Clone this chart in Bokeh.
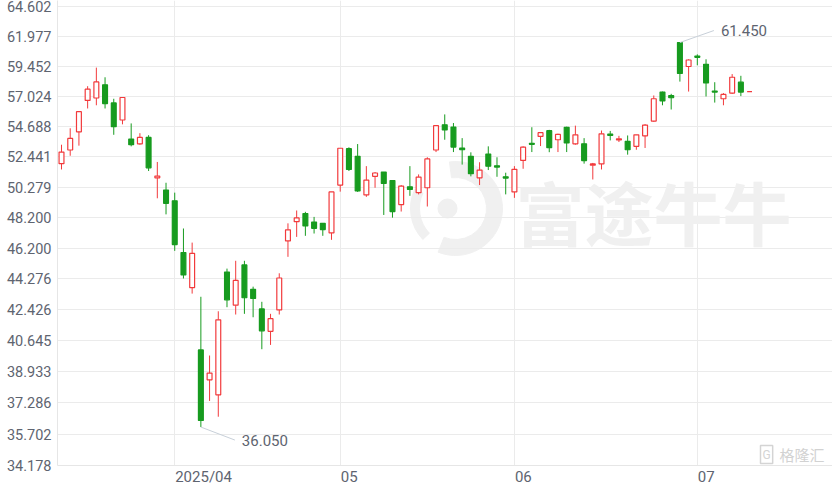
import math
from bokeh.plotting import figure
from bokeh.models import Range1d, FixedTicker, PrintfTickFormatter, Label, ColumnDataSource
from bokeh.embed import file_html
from bokeh.resources import INLINE

# ---------------- data ----------------
dates = (
    ["2025-03-%02d" % d for d in [13, 14, 17, 18, 19, 20, 21, 24, 25, 26, 27, 28, 31]]
    + ["2025-04-%02d" % d for d in [1, 2, 3, 7, 8, 9, 10, 11, 14, 15, 16, 17, 22, 23, 24, 25, 28, 29, 30]]
    + ["2025-05-%02d" % d for d in [2, 6, 7, 8, 9, 12, 13, 14, 15, 16, 19, 20, 21, 22, 23, 26, 27, 28, 29, 30]]
    + ["2025-06-%02d" % d for d in [2, 3, 4, 5, 6, 9, 10, 11, 12, 13, 16, 17, 18, 19, 20, 23, 24, 25, 26, 27, 30]]
    + ["2025-07-%02d" % d for d in [2, 3, 4, 7, 8, 9, 10]]
)

opens = [51.95, 52.94, 54.29, 56.71, 56.90, 57.95, 56.51, 55.19, 53.75, 53.40,
         53.87, 50.94, 50.08, 49.34, 45.92, 43.74, 40.12, 38.49, 37.70, 44.70,
         42.69, 45.14, 43.64, 42.47, 41.17, 42.41, 46.67, 47.93, 48.47, 47.91,
         47.82, 47.19, 50.43, 53.04, 52.48, 49.74, 51.04, 51.35, 50.75, 49.08,
         50.31, 49.90, 50.24, 52.94, 54.83, 54.65, 53.09, 52.48, 50.94, 52.65,
         51.79, 51.01, 49.95, 52.18, 53.43, 53.95, 54.38, 53.70, 54.63, 53.40,
         53.40, 51.84, 51.93, 54.12, 53.68, 53.58, 53.21, 53.99, 55.11, 57.37,
         57.10, 61.45, 59.44, 60.31, 59.62, 57.45, 56.84, 57.29, 58.16, 57.41]
highs = [53.33, 54.56, 55.83, 57.84, 59.35, 58.56, 56.84, 56.94, 54.93, 54.19,
         54.04, 52.07, 50.59, 49.90, 47.48, 46.56, 43.19, 39.81, 42.33, 44.91,
         45.40, 45.40, 43.80, 42.89, 42.18, 44.62, 47.82, 48.68, 48.59, 48.25,
         47.84, 49.95, 53.07, 53.14, 53.38, 51.77, 51.35, 51.35, 50.75, 50.43,
         51.77, 51.18, 52.41, 54.76, 55.62, 54.96, 53.82, 52.77, 52.05, 53.21,
         52.41, 51.30, 51.77, 53.21, 54.64, 54.25, 54.44, 54.15, 54.68, 54.76,
         53.82, 52.00, 54.39, 54.36, 53.99, 54.02, 54.07, 54.88, 57.10, 57.41,
         57.23, 61.45, 60.04, 60.45, 60.04, 58.16, 57.29, 58.82, 58.68, 57.41]
lows = [51.53, 52.52, 53.26, 56.08, 56.33, 56.08, 54.07, 54.86, 53.21, 53.33,
        51.42, 49.51, 48.42, 46.03, 44.30, 43.38, 36.05, 37.38, 36.57, 42.57,
        42.14, 42.18, 41.98, 40.16, 40.40, 42.14, 45.65, 46.93, 47.00, 47.15,
        47.00, 46.74, 49.97, 51.42, 49.95, 49.61, 50.24, 48.38, 48.20, 48.61,
        49.68, 49.78, 48.95, 52.79, 53.70, 52.79, 51.88, 51.04, 50.43, 51.49,
        51.01, 49.78, 49.54, 51.58, 52.79, 53.23, 52.78, 52.79, 52.79, 53.33,
        51.95, 50.82, 51.53, 53.65, 53.53, 52.60, 52.96, 53.09, 55.06, 56.33,
        56.00, 58.21, 57.41, 59.54, 57.02, 56.54, 56.33, 57.23, 57.05, 57.41]
closes = [52.79, 53.80, 55.83, 57.60, 58.18, 56.46, 54.68, 56.94, 53.33, 53.87,
          51.65, 51.06, 49.17, 46.43, 44.52, 45.87, 36.38, 38.85, 41.83, 43.01,
          44.18, 43.13, 43.09, 41.20, 41.90, 44.33, 47.39, 48.18, 47.65, 47.49,
          47.41, 49.95, 53.07, 51.53, 50.02, 50.78, 51.28, 50.54, 48.61, 50.36,
          50.12, 50.99, 52.29, 54.76, 54.43, 53.16, 52.96, 51.23, 51.49, 51.77,
          51.70, 50.92, 51.54, 53.15, 53.36, 54.23, 53.11, 54.10, 53.46, 54.07,
          52.17, 51.93, 54.14, 54.02, 53.77, 52.96, 54.07, 54.80, 56.84, 56.67,
          56.92, 58.87, 59.98, 60.20, 58.10, 57.37, 57.18, 58.56, 57.37, 57.41]

y_ticks = [34.178, 35.702, 37.286, 38.933, 40.645, 42.426, 44.276, 46.200,
           48.200, 50.279, 52.441, 54.688, 57.024, 59.452, 61.977, 64.602]

# ---------------- style / layout ----------------
RED = "#f23a3c"
GREEN = "#179b1f"
GRID = "#ebebeb"
TEXT = "#5e6470"
WM = "#f0f0f0"
FONT = "Roboto"
XFS = 15  # x label font size (px)

W, H = 832, 490
LEFT, TOP, BOTTOM = 57, 0, 25
x_start, x_end = -0.46, 88.52
y_start, y_end = 34.178, 65.14

p = figure(width=W, height=H, output_backend="svg", toolbar_location=None,
           x_range=Range1d(x_start, x_end), y_range=Range1d(y_start, y_end),
           y_axis_type="log",
           min_border_left=LEFT, min_border_right=0,
           min_border_top=TOP, min_border_bottom=BOTTOM)
p.outline_line_color = None
p.background_fill_color = "white"
p.border_fill_color = "white"

frame_w = W - LEFT
frame_h = H - TOP - BOTTOM
px_idx = frame_w / (x_end - x_start)
px_ln = frame_h / math.log(y_end / y_start)

# y axis
p.yaxis.ticker = FixedTicker(ticks=y_ticks)
p.yaxis.formatter = PrintfTickFormatter(format="%.3f")
p.yaxis.major_label_text_font = FONT
p.yaxis.major_label_text_font_size = "14.5px"
p.yaxis.major_label_text_color = TEXT
p.yaxis.major_label_standoff = 6
p.yaxis.axis_label_standoff = 0
p.yaxis.major_tick_out = 0
p.yaxis.major_tick_in = 0
p.yaxis.minor_tick_out = 0
p.yaxis.minor_tick_in = 0
p.yaxis.major_tick_line_color = None
p.yaxis.minor_tick_line_color = None
p.yaxis.axis_line_color = "#e6e6e6"
p.ygrid.grid_line_color = GRID
p.ygrid.grid_line_width = 1

# x axis: index based, gridlines at first trading day of each month,
# labels left-aligned on the gridline (tick placed at the label's centre)
n = len(dates)
xs = list(range(n))
month_idx = [i for i in range(1, n) if dates[i][5:7] != dates[i - 1][5:7]]
month_txt = [(dates[i][:4] + "/" + dates[i][5:7]) if k == 0 else dates[i][5:7]
             for k, i in enumerate(month_idx)]


def text_w(s):
    return sum(0.5615 if ch.isdigit() else 0.41 for ch in s) * XFS


label_pos = [round(i + (text_w(t) / 2 + 0.5) / px_idx, 4) for i, t in zip(month_idx, month_txt)]
p.xaxis.ticker = FixedTicker(ticks=label_pos)
p.xaxis.major_label_overrides = {pos: t for pos, t in zip(label_pos, month_txt)}
p.xaxis.major_label_text_font = FONT
p.xaxis.major_label_text_font_size = "%dpx" % XFS
p.xaxis.major_label_text_color = TEXT
p.xaxis.major_label_standoff = 2
p.xaxis.axis_label_standoff = 0
p.xaxis.major_tick_out = 0
p.xaxis.major_tick_in = 0
p.xaxis.minor_tick_out = 0
p.xaxis.minor_tick_in = 0
p.xaxis.major_tick_line_color = None
p.xaxis.minor_tick_line_color = None
p.xaxis.axis_line_color = "#e6e6e6"
p.xgrid.ticker = FixedTicker(ticks=month_idx)
p.xgrid.grid_line_color = GRID
p.xgrid.grid_line_width = 1

# watermarks (logo + 富途牛牛, 格隆汇)
wx = x_start + (455 - LEFT) / px_idx
wy = y_end * math.exp(-(208 - TOP) / px_ln)
p.annular_wedge(x=[wx], y=[wy], inner_radius=31, outer_radius=47,
                inner_radius_units="screen", outer_radius_units="screen",
                start_angle=-1.95, end_angle=1.7, color=WM, level="underlay")
p.annular_wedge(x=[wx], y=[wy], inner_radius=36, outer_radius=45,
                inner_radius_units="screen", outer_radius_units="screen",
                start_angle=2.7, end_angle=3.9, color=WM, level="underlay")
p.scatter(x=[wx - 8 / px_idx], y=[wy], size=19, color=WM, level="underlay")
p.add_layout(Label(x=458, y=255, x_units="screen", y_units="screen", text="富途牛牛",
                   text_font="Noto Sans CJK SC", text_font_style="bold",
                   text_font_size="69px", text_baseline="middle",
                   text_color=WM, level="underlay"))
p.add_layout(Label(x=703, y=2, x_units="screen", y_units="screen", text="G",
                   text_font=FONT, text_font_size="12px", text_baseline="bottom",
                   text_color="#d4d4d4", border_line_color="#d4d4d4",
                   border_line_width=1.5, padding=2))
p.add_layout(Label(x=722, y=1, x_units="screen", y_units="screen", text="格隆汇",
                   text_font="Noto Sans CJK SC", text_font_size="15px",
                   text_baseline="bottom", text_color="#d2d2d2"))

# candles
up = [c >= o for o, c in zip(opens, closes)]
src = ColumnDataSource(dict(
    x=xs,
    high=highs, low=lows,
    top=[max(o, c) for o, c in zip(opens, closes)],
    bottom=[min(o, c) for o, c in zip(opens, closes)],
    color=[RED if u else GREEN for u in up],
    fill=["white" if u else GREEN for u in up],
))
p.segment(x0="x", y0="high", x1="x", y1="low", color="color", line_width=1, source=src)
p.vbar(x="x", top="top", bottom="bottom", width=0.56, fill_color="fill",
       line_color="color", line_width=1.2, source=src)

# max / min markers
i_hi = highs.index(max(highs))
i_lo = lows.index(min(lows))
hi, lo = highs[i_hi], lows[i_lo]
p.segment(x0=[i_lo, i_hi], y0=[lo, hi],
          x1=[i_lo + 34 / px_idx, i_hi + 34 / px_idx],
          y1=[lo * math.exp(-13 / px_ln), hi * math.exp(12 / px_ln)],
          line_color="#c8d0d9", line_width=1)
p.add_layout(Label(x=i_lo, y=lo, x_offset=41, y_offset=-13, text="%.3f" % lo,
                   text_baseline="middle", text_font=FONT, text_font_size="15px",
                   text_color=TEXT))
p.add_layout(Label(x=i_hi, y=hi, x_offset=41, y_offset=12, text="%.3f" % hi,
                   text_baseline="middle", text_font=FONT, text_font_size="15px",
                   text_color=TEXT))

open("out.html", "w").write(file_html(p, INLINE))
